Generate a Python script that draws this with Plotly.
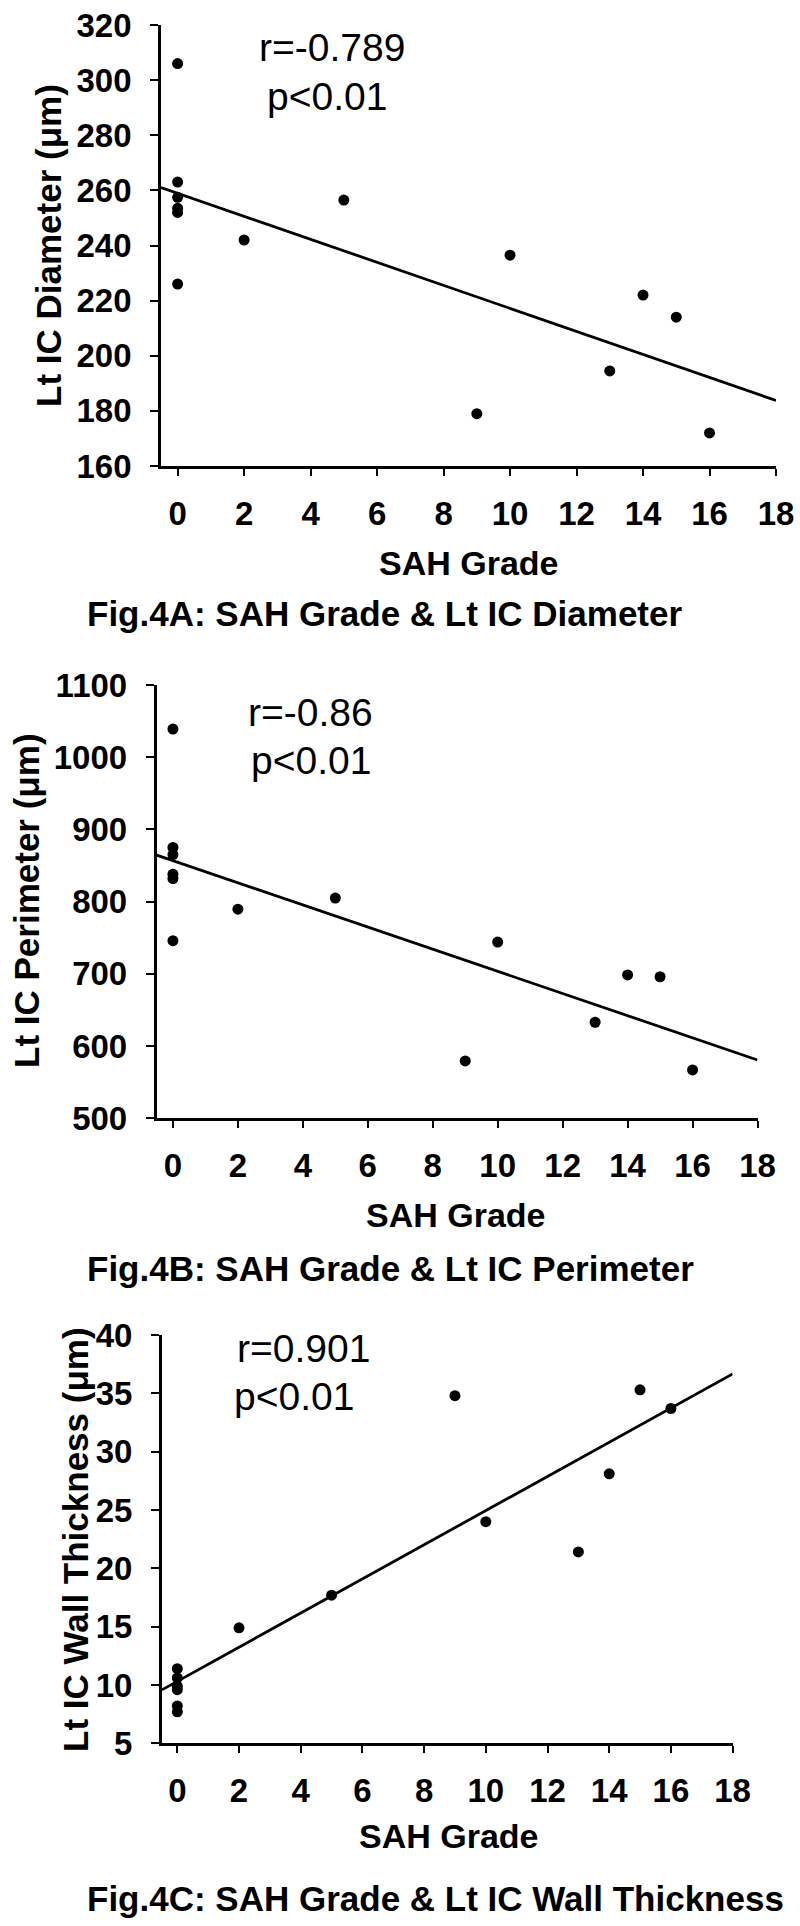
import numpy as np
import plotly.graph_objects as go

FONT = "Liberation Sans, Arial, sans-serif"

# data
SAH_GRADE = [0, 0, 0, 0, 0, 0, 2, 5, 9, 10, 13, 14, 15, 16]
DIAMETER = [306, 263, 257.5, 253.5, 252, 226, 242, 256.5, 179, 236.5, 194.5, 222, 214, 172]
PERIMETER = [1039, 875, 865, 838, 832, 746, 789.5, 805, 579.5, 744, 633, 698.5, 696, 567]
WALL = [11.4, 10.6, 9.9, 9.6, 8.2, 7.7, 14.9, 17.7, 34.8, 24.0, 21.4, 28.1, 35.3, 33.7]

Y_TITLES = [
    "Lt IC Diameter (μm)",
    "Lt IC Perimeter (μm)",
    "Lt IC Wall Thickness (μm)",
]
CAPTIONS = [
    "Fig.4A: SAH Grade & Lt IC Diameter",
    "Fig.4B: SAH Grade & Lt IC Perimeter",
    "Fig.4C: SAH Grade & Lt IC Wall Thickness",
]
R_TEXT = ["r=-0.789", "r=-0.86", "r=0.901"]
P_TEXT = ["p&lt;0.01", "p&lt;0.01", "p&lt;0.01"]
X_TITLE = "SAH Grade"

X_RANGE = [-0.5, 18]
Y_RANGES = [[160, 320], [500, 1100], [5, 40]]
Y_DTICKS = [20, 100, 5]

W, H = 800, 1926


def px_x(p):
    return p / W


def px_y(p):
    return 1 - p / H


# pixel layout of each panel (left, right, top, bottom) and text spots
panels = [
    dict(box=(161, 776, 25, 466), ytitle=(48, 246), xtitle=(469, 563),
         cap=613, r=(332, 47), p=(327, 96)),
    dict(box=(156.7, 757.5, 685, 1118.3), ytitle=(26, 901), xtitle=(456, 1215),
         cap=1268, r=(310, 713), p=(311, 761)),
    dict(box=(161.9, 732.6, 1335, 1743.3), ytitle=(75, 1540), xtitle=(449, 1836),
         cap=1898, r=(303, 1348), p=(294, 1396)),
]

series = [DIAMETER, PERIMETER, WALL]

fig = go.Figure()
annotations = []
layout = dict(
    template="none",
    width=W,
    height=H,
    margin=dict(l=0, r=0, t=0, b=0, pad=0),
    paper_bgcolor="white",
    plot_bgcolor="white",
    showlegend=False,
    font=dict(family=FONT, color="black"),
)

for i, (vals, pan) in enumerate(zip(series, panels)):
    n = "" if i == 0 else str(i + 1)
    xa, ya = "x" + n, "y" + n

    fig.add_trace(go.Scatter(
        x=SAH_GRADE, y=vals, mode="markers",
        marker=dict(color="black", size=11),
        xaxis=xa, yaxis=ya, cliponaxis=False,
    ))

    # linear trendline, as drawn in the source chart
    slope, icpt = np.polyfit(SAH_GRADE, vals, 1)
    lx = np.array(X_RANGE)
    fig.add_trace(go.Scatter(
        x=lx, y=slope * lx + icpt, mode="lines",
        line=dict(color="black", width=2.8),
        xaxis=xa, yaxis=ya,
    ))

    l, r, t, b = pan["box"]
    layout["xaxis" + n] = dict(
        domain=[px_x(l), px_x(r)], range=X_RANGE, anchor=ya,
        tickmode="linear", tick0=0, dtick=2, automargin=False,
        showline=True, linecolor="black", linewidth=2.8,
        ticks="outside", ticklen=7, tickwidth=2.2, tickcolor="black",
        showgrid=False, zeroline=False, ticklabelstandoff=9,
        tickfont=dict(family=FONT, size=33, weight=700, color="black"),
    )
    layout["yaxis" + n] = dict(
        domain=[px_y(b), px_y(t)], range=Y_RANGES[i], anchor=xa,
        tickmode="linear", tick0=Y_RANGES[i][0], dtick=Y_DTICKS[i],
        automargin=False,
        showline=True, linecolor="black", linewidth=2.8,
        ticks="outside", ticklen=8, tickwidth=2.2, tickcolor="black",
        showgrid=False, zeroline=False, ticklabelstandoff=12,
        tickfont=dict(family=FONT, size=33, weight=700, color="black"),
    )

    annotations += [
        dict(text=Y_TITLES[i], x=px_x(pan["ytitle"][0]), y=px_y(pan["ytitle"][1]),
             textangle=-90, font=dict(size=35, weight=700)),
        dict(text=X_TITLE, x=px_x(pan["xtitle"][0]), y=px_y(pan["xtitle"][1]),
             font=dict(size=34, weight=700)),
        dict(text=CAPTIONS[i], x=px_x(85), y=px_y(pan["cap"]), xanchor="left",
             font=dict(size=35, weight=700)),
        dict(text=R_TEXT[i], x=px_x(pan["r"][0]), y=px_y(pan["r"][1]),
             font=dict(size=39)),
        dict(text=P_TEXT[i], x=px_x(pan["p"][0]), y=px_y(pan["p"][1]),
             font=dict(size=39)),
    ]

for a in annotations:
    a.update(xref="paper", yref="paper", showarrow=False, yanchor="middle")
    a.setdefault("xanchor", "center")
    a["font"] = dict(family=FONT, color="black", **a["font"])

layout["annotations"] = annotations
fig.update_layout(**layout)

fig.write_html(
    "out.html",
    config={"displayModeBar": False},
    post_script="document.body.style.margin='0';",
)
